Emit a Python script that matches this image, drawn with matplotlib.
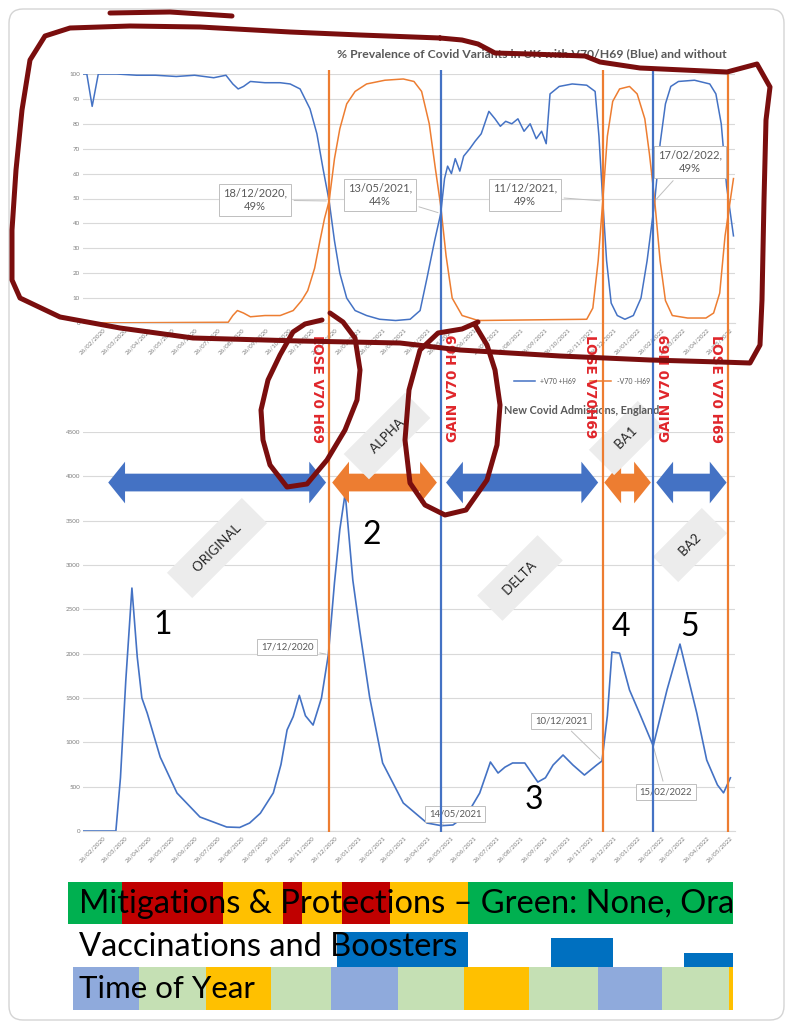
import matplotlib
matplotlib.use('Agg')
import numpy as np
import matplotlib.pyplot as plt
import matplotlib.dates as mdates
from matplotlib.patches import Polygon, Rectangle, FancyBboxPatch

W, H = 786, 1024
BLUE = '#4472c4'
ORANGE = '#ed7d31'
GRID = '#d9d9d9'
TICK = '#7f7f7f'
RED_TXT = '#e0262b'
MAROON = '#7a0e0e'

plt.rcParams['font.family'] = ['Lato', 'DejaVu Sans']

# --- % prevalence of variants (top chart) ---
blue_dates = ['2020-01-26', '2020-02-05', '2020-02-12', '2020-02-20', '2020-03-15', '2020-04-10',
              '2020-05-05', '2020-06-01', '2020-06-25', '2020-07-20', '2020-08-05', '2020-08-14',
              '2020-08-21', '2020-08-28', '2020-09-06', '2020-09-25', '2020-10-15', '2020-10-28',
              '2020-11-10', '2020-11-23', '2020-12-02', '2020-12-10', '2020-12-18', '2020-12-25',
              '2021-01-01', '2021-01-10', '2021-01-21', '2021-02-05', '2021-02-22', '2021-03-15',
              '2021-04-03', '2021-04-16', '2021-04-25', '2021-05-05', '2021-05-13', '2021-05-18',
              '2021-05-22', '2021-05-27', '2021-06-01', '2021-06-07', '2021-06-12', '2021-06-20',
              '2021-06-27', '2021-07-05', '2021-07-15', '2021-07-23', '2021-07-30', '2021-08-06',
              '2021-08-14', '2021-08-22', '2021-08-30', '2021-09-07', '2021-09-15', '2021-09-22',
              '2021-09-28', '2021-10-03', '2021-10-15', '2021-11-01', '2021-11-20', '2021-12-01',
              '2021-12-06', '2021-12-11', '2021-12-16', '2021-12-22', '2021-12-30', '2022-01-09',
              '2022-01-20', '2022-01-30', '2022-02-07', '2022-02-17', '2022-02-24', '2022-03-03',
              '2022-03-10', '2022-03-20', '2022-04-10', '2022-04-30', '2022-05-08', '2022-05-15',
              '2022-05-22', '2022-05-31']
blue_pct = [100, 100, 87, 100, 100, 99.5,
            99.5, 99, 99.5, 98.5, 99.5, 96,
            94, 95, 97, 96.5, 96.5, 96,
            94, 86, 76, 62, 49, 33,
            20, 10, 5, 3, 1.5, 1,
            1.5, 5, 18, 33, 44, 58,
            63, 60, 66, 61, 67, 70,
            73, 76, 85, 82, 79, 81,
            80, 82, 77, 80, 74, 77,
            72, 92, 95, 96, 95.5, 93,
            75, 49, 25, 8, 3, 1.5,
            3, 10, 25, 49, 72, 88,
            95, 97, 97.5, 96, 92, 80,
            55, 35]

orange_dates = ['2020-01-26', '2020-08-08', '2020-08-14', '2020-08-20', '2020-08-28', '2020-09-06',
                '2020-09-25', '2020-10-15', '2020-11-01', '2020-11-12', '2020-11-20', '2020-11-29',
                '2020-12-06', '2020-12-12', '2020-12-18', '2020-12-25', '2021-01-01', '2021-01-10',
                '2021-01-21', '2021-02-05', '2021-03-01', '2021-03-25', '2021-04-08', '2021-04-18',
                '2021-04-28', '2021-05-06', '2021-05-13', '2021-05-20', '2021-05-28', '2021-06-10',
                '2021-07-01', '2021-11-20', '2021-11-28', '2021-12-05', '2021-12-11', '2021-12-17',
                '2021-12-24', '2022-01-02', '2022-01-15', '2022-01-25', '2022-02-04', '2022-02-10',
                '2022-02-17', '2022-02-24', '2022-03-03', '2022-03-12', '2022-04-01', '2022-04-25',
                '2022-05-05', '2022-05-13', '2022-05-20', '2022-05-31']
orange_pct = [0, 0.3, 3, 5, 4, 2.5,
              3, 3, 5, 9, 13, 22,
              33, 42, 49, 66, 78, 88,
              93, 96, 97.5, 98, 97, 93,
              80, 62, 47, 27, 10, 3,
              1, 1.5, 6, 25, 49, 75,
              89, 94, 95, 92, 82, 68,
              49, 25, 9, 3, 2, 2,
              4, 12, 35, 58]

# --- new covid admissions, England (bottom chart) ---
adm_dates = ['2020-01-26', '2020-03-14', '2020-03-20', '2020-03-27', '2020-04-04', '2020-04-11',
             '2020-04-17', '2020-04-24', '2020-05-11', '2020-06-02', '2020-07-02', '2020-08-06',
             '2020-08-23', '2020-09-05', '2020-09-19', '2020-10-06', '2020-10-16', '2020-10-24',
             '2020-11-01', '2020-11-09', '2020-11-17', '2020-11-27', '2020-12-08', '2020-12-17',
             '2020-12-25', '2021-01-01', '2021-01-08', '2021-01-18', '2021-01-27', '2021-02-09',
             '2021-02-26', '2021-03-25', '2021-04-25', '2021-05-14', '2021-05-29', '2021-06-16',
             '2021-07-03', '2021-07-17', '2021-07-27', '2021-08-05', '2021-08-15', '2021-08-31',
             '2021-09-17', '2021-09-27', '2021-10-07', '2021-10-20', '2021-11-02', '2021-11-17',
             '2021-12-03', '2021-12-10', '2021-12-17', '2021-12-23', '2022-01-02', '2022-01-15',
             '2022-01-28', '2022-02-15', '2022-03-05', '2022-03-22', '2022-04-13', '2022-04-26',
             '2022-05-10', '2022-05-18', '2022-05-27']
admissions = [0, 0, 600, 1700, 2740, 1960,
              1500, 1330, 834, 428, 158, 45,
              40, 90, 200, 430, 750, 1140,
              1290, 1530, 1300, 1195, 1500, 1990,
              2800, 3400, 3810, 2830, 2266, 1510,
              767, 316, 90, 60, 68, 180,
              428, 778, 654, 720, 767, 767,
              552, 600, 744, 857, 744, 631,
              744, 790, 1300, 2018, 2006, 1590,
              1330, 960, 1590, 2108, 1330, 800,
              520, 430, 600]

# --- variant switch lines ---
switch_dates = ['2020-12-18', '2021-05-13', '2021-12-11', '2022-02-15', '2022-05-24']
switch_colors = [ORANGE, BLUE, ORANGE, BLUE, ORANGE]
switch_labels = ['LOSE V70 H69', 'GAIN V70 H69', 'LOSE V70H69', 'GAIN V70 H69', 'LOSE V70 H69']

# --- variant period arrows ---
period_names = ['ORIGINAL', 'ALPHA', 'DELTA', 'BA1', 'BA2']
period_start = ['2020-03-04', '2020-12-22', '2021-05-20', '2021-12-13', '2022-02-19']
period_end = ['2020-12-14', '2021-05-08', '2021-12-05', '2022-02-12', '2022-05-22']
period_colors = [BLUE, ORANGE, BLUE, ORANGE, BLUE]

# --- callouts ---
top_notes = ['18/12/2020,\n49%', '13/05/2021,\n44%', '11/12/2021,\n49%', '17/02/2022,\n49%']
top_note_dates = ['2020-12-18', '2021-05-13', '2021-12-11', '2022-02-17']
top_note_vals = [49, 44, 49, 49]
bot_notes = ['17/12/2020', '14/05/2021', '10/12/2021', '15/02/2022']
bot_note_dates = ['2020-12-17', '2021-05-14', '2021-12-10', '2022-02-15']
bot_note_vals = [1990, 60, 790, 960]

# --- bands under the charts ---
mitig_edges = [68, 122, 223, 283, 302, 342, 390, 468, 733]
mitig_colors = ['#00b050', '#c00000', '#ffc000', '#c00000', '#ffc000', '#c00000', '#ffc000', '#00b050']
vacc_x0 = [337, 551, 684]
vacc_x1 = [468, 613, 733]
vacc_top = [932, 938, 953]
season_edges = [73, 139, 206, 271, 331, 398, 464, 529, 598, 662, 729, 733]
season_colors = ['#8faadc', '#c5e0b4', '#ffc000', '#c5e0b4', '#8faadc', '#c5e0b4',
                 '#ffc000', '#c5e0b4', '#8faadc', '#c5e0b4', '#ffc000']

# hand drawn marker strokes (pixels)
stroke_top = [(110, 13), (170, 12), (232, 16)]
stroke_outer = [(440, 38), (360, 35), (290, 32), (200, 27), (130, 26), (70, 28), (45, 36), (30, 60),
                (22, 110), (16, 170), (12, 230), (12, 280), (20, 298), (60, 317), (120, 328),
                (193, 338), (300, 341), (400, 343), (460, 350), (560, 356), (650, 360), (720, 362),
                (750, 363), (760, 345), (762, 300), (764, 200), (766, 120), (770, 87), (757, 64),
                (727, 72), (640, 68), (600, 62), (585, 56), (530, 54), (495, 53), (478, 44),
                (462, 40), (440, 38)]
stroke_lose = [(322, 320), (305, 324), (293, 332), (280, 355), (268, 380), (261, 410), (263, 440),
               (270, 465), (287, 487), (307, 484), (327, 460), (345, 430), (357, 400), (360, 370),
               (355, 338), (343, 322), (330, 313)]
stroke_gain = [(478, 322), (462, 329), (438, 333), (420, 350), (409, 390), (405, 440), (410, 483),
               (425, 505), (445, 515), (466, 510), (487, 480), (497, 445), (500, 405), (495, 370),
               (487, 345), (475, 325)]


def d(s):
    return mdates.datestr2num(s)


def rect(x0, y0, x1, y1):
    return [x0 / W, 1 - y1 / H, (x1 - x0) / W, (y1 - y0) / H]


x_lo, x_hi = d('2020-01-31'), d('2022-06-02')


def style_axes(ax, ymax, step):
    ax.set_xlim(x_lo, x_hi)
    ax.set_ylim(0, ymax)
    ax.set_yticks(np.arange(0, ymax + 1, step))
    ax.grid(axis='y', color=GRID, lw=0.8)
    ax.set_axisbelow(True)
    for s in ['top', 'right', 'left']:
        ax.spines[s].set_visible(False)
    ax.spines['bottom'].set_color(GRID)
    ax.xaxis.set_major_locator(mdates.MonthLocator(bymonthday=26))
    ax.xaxis.set_major_formatter(mdates.DateFormatter('%d/%m/%Y'))
    ax.tick_params(length=0, labelsize=4.5, colors=TICK, pad=2)
    ax.tick_params(axis='x', labelrotation=45, pad=3)
    plt.setp(ax.get_xticklabels(), ha='right', rotation_mode='anchor')
    ax.patch.set_alpha(0)


fig = plt.figure(figsize=(W / 100, H / 100), dpi=100)

# top chart
ax1 = fig.add_axes(rect(83, 74, 735, 323))
style_axes(ax1, 100, 10)
ax1.plot(d(blue_dates), blue_pct, color=BLUE, lw=1.1, label='+V70 +H69')
ax1.plot(d(orange_dates), orange_pct, color=ORANGE, lw=1.1, label='-V70 -H69')
fig.text(532 / W, 1 - 54 / H, '% Prevalence of Covid Variants in UK with V70/H69 (Blue) and without',
         ha='center', va='center', fontsize=8.8, fontweight='bold', color='#595959')
ax1.legend(loc='center', bbox_to_anchor=(582 / W, 1 - 381 / H), bbox_transform=fig.transFigure,
           ncol=2, frameon=False, fontsize=5, handlelength=3, columnspacing=2,
           labelcolor='#595959')

# bottom chart
ax2 = fig.add_axes(rect(83, 432, 735, 831))
style_axes(ax2, 4500, 500)
ax2.plot(d(adm_dates), admissions, color=BLUE, lw=1.2)
fig.text(582 / W, 1 - 411 / H, 'New Covid Admissions, England', ha='center', va='center',
         fontsize=7.8, fontweight='bold', color='#595959')

# double headed period arrows
arrow_y, body, head_w, head_l = 3930, 200, 470, 22
for name, s, e, c in zip(period_names, period_start, period_end, period_colors):
    x0, x1 = d(s), d(e)
    pts = [(x0, arrow_y), (x0 + head_l, arrow_y + head_w / 2), (x0 + head_l, arrow_y + body / 2),
           (x1 - head_l, arrow_y + body / 2), (x1 - head_l, arrow_y + head_w / 2), (x1, arrow_y),
           (x1 - head_l, arrow_y - head_w / 2), (x1 - head_l, arrow_y - body / 2),
           (x0 + head_l, arrow_y - body / 2), (x0 + head_l, arrow_y - head_w / 2)]
    ax2.add_patch(Polygon(pts, closed=True, color=c, lw=0, zorder=3, clip_on=False))

# callouts
note_box = dict(boxstyle='square,pad=0.35', fc='white', ec='#bfbfbf', lw=0.7)
note_arrow = dict(arrowstyle='-', color='#bfbfbf', lw=0.7)
top_pos = [(255, 200), (380, 195), (525, 195), (690, 162)]
for txt, dt, v, (px, py) in zip(top_notes, top_note_dates, top_note_vals, top_pos):
    ax1.annotate(txt, xy=(d(dt), v), xytext=(px, H - py), textcoords='figure pixels',
                 ha='center', va='center', fontsize=8, color='#595959', linespacing=1.3,
                 bbox=note_box, arrowprops=note_arrow, annotation_clip=False, zorder=6)
bot_pos = [(287, 647), (455, 814), (561, 721), (666, 792)]
for txt, dt, v, (px, py) in zip(bot_notes, bot_note_dates, bot_note_vals, bot_pos):
    ax2.annotate(txt, xy=(d(dt), v), xytext=(px, H - py), textcoords='figure pixels',
                 ha='center', va='center', fontsize=6.8, color='#595959',
                 bbox=note_box, arrowprops=note_arrow, annotation_clip=False, zorder=6)

# labels drawn in pixel space
pix = fig.add_axes([0, 0, 1, 1])
pix.set_xlim(0, W)
pix.set_ylim(H, 0)
pix.axis('off')
pix.patch.set_alpha(0)
label_pos = [(217, 548), (387, 436), (520, 578), (626, 438), (690, 545)]
for name, (px, py) in zip(period_names, label_pos):
    pix.text(px, py, '   ' + name + '   ', rotation=45, ha='center', va='center', fontsize=9.5,
             color='#262626', rotation_mode='anchor',
             bbox=dict(boxstyle='square,pad=0.9', fc='#ececec', ec='none'))
wave_num = ['1', '2', '3', '4', '5']
wave_pos = [(163, 625), (372, 535), (534, 800), (621, 627), (690, 627)]
for n, (px, py) in zip(wave_num, wave_pos):
    pix.text(px, py, n, ha='center', va='center', fontsize=23, color='black')

# overlay for the switch lines, spanning both charts
ov = fig.add_axes(rect(83, 0, 735, H), zorder=5)
ov.set_xlim(x_lo, x_hi)
ov.set_ylim(H, 0)
ov.axis('off')
ov.patch.set_alpha(0)
ov.vlines(d(switch_dates), 70, 832, colors=switch_colors, lw=1.6)
for dt, lab in zip(switch_dates, switch_labels):
    gain = lab.startswith('GAIN')
    ov.annotate(lab, xy=(d(dt), 335), xytext=(9 if gain else -9, 0), textcoords='offset points',
                rotation=90 if gain else 270, ha='center', va='top', fontsize=9.8,
                fontweight='bold', color=RED_TXT, family=['DejaVu Sans'])

# bands
bands = fig.add_axes(rect(68, 878, 733, 1012), zorder=4)
bands.set_xlim(68, 733)
bands.set_ylim(1012, 878)
bands.axis('off')
for i, c in enumerate(mitig_colors):
    bands.add_patch(Rectangle((mitig_edges[i], 882), mitig_edges[i + 1] - mitig_edges[i], 42,
                              color=c, lw=0))
for x0, x1, t in zip(vacc_x0, vacc_x1, vacc_top):
    bands.add_patch(Rectangle((x0, t), x1 - x0, 967 - t, color='#0070c0', lw=0))
for i, c in enumerate(season_colors):
    bands.add_patch(Rectangle((season_edges[i], 967), season_edges[i + 1] - season_edges[i], 43,
                              color=c, lw=0))
bands.text(79, 904, 'Mitigations & Protections \u2013 Green: None, Orange', fontsize=23.5,
           va='center', color='black', clip_on=True)
bands.text(79, 947, 'Vaccinations and Boosters', fontsize=23.5, va='center', color='black')
bands.text(79, 989, 'Time of Year', fontsize=22.5, va='center', color='black')

# hand drawn strokes and the screenshot frame
full = fig.add_axes([0, 0, 1, 1], zorder=10)
full.set_xlim(0, W)
full.set_ylim(H, 0)
full.axis('off')
full.patch.set_alpha(0)
full.add_patch(FancyBboxPatch((9, 9), 775, 1011, boxstyle='round,pad=0,rounding_size=14',
                              fill=False, ec='#d4d4d4', lw=1))
for path in [stroke_top, stroke_outer, stroke_lose, stroke_gain]:
    xs, ys = zip(*path)
    full.plot(xs, ys, color=MAROON, lw=3.6, solid_capstyle='round', solid_joinstyle='round')

fig.savefig('out.png', dpi=100, facecolor='white')
